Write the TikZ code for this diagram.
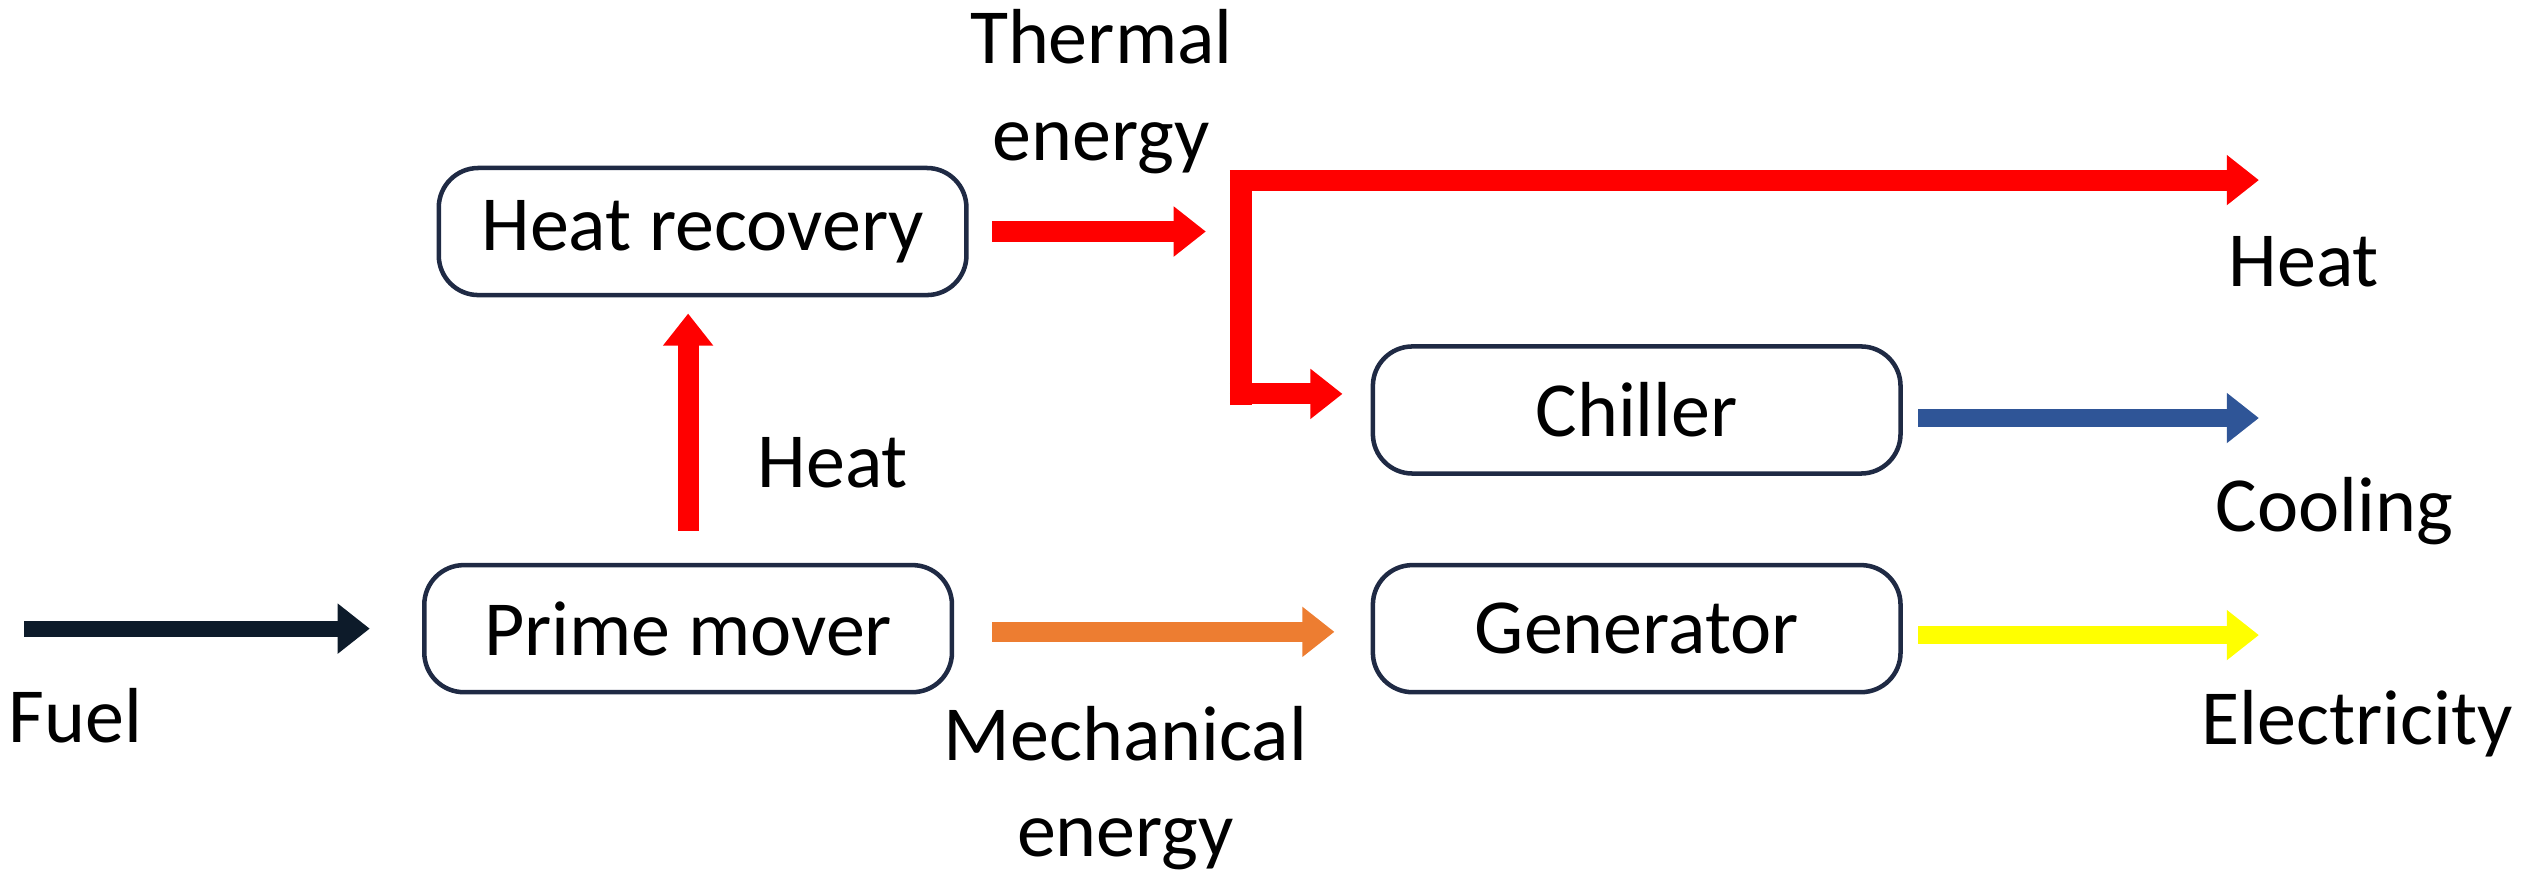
\documentclass[tikz,border=0pt]{standalone}
\usepackage{fontspec}
\setmainfont{Carlito}
\usetikzlibrary{arrows.meta}
\definecolor{fuelc}{HTML}{0D1B2A}
\definecolor{redc}{HTML}{FF0000}
\definecolor{bluec}{HTML}{2F5597}
\definecolor{orc}{HTML}{ED7D31}
\definecolor{yelc}{HTML}{FFFF00}
\definecolor{boxc}{HTML}{1F2A44}
\begin{document}
\begin{tikzpicture}[x=0.01cm,y=-0.01cm,
  box/.style={draw=boxc,line width=0.8pt,rounded corners=7pt,minimum width=3.28cm,minimum height=0.79cm,font=\fontsize{13.8}{16}\selectfont},
  lbl/.style={font=\fontsize{13.8}{17}\selectfont,align=center},
  flow/.style={line width=#1,-{Triangle[length=0.2cm,width=0.3cm]}}]
\useasboundingbox (0,0) rectangle (1568,545);
\node[box] (hr) at (437,144) {Heat recovery};
\node[box] (pm) at (428,391) {Prime mover};
\node[box] (ch) at (1018,255) {Chiller};
\node[box] (gen) at (1018,391) {Generator};
\coordinate (f0) at (15,391);
\coordinate (th) at (750,144);
\coordinate (hc) at (1405,112);
\coordinate (cc) at (1405,260);
\coordinate (ec) at (1405,395);
\coordinate (ch0) at (1193,260);
\coordinate (ge0) at (1193,395);
\draw[flow=0.1cm,draw=fuelc,fill=fuelc] (f0) -- (230,391);
\draw[flow=0.13cm,draw=redc,fill=redc] (pm.north |- 0,330) -- (pm.north |- 0,195);
\draw[flow=0.13cm,draw=redc,fill=redc] (617,144) -- (th);
\draw[line width=0.14cm,draw=redc] (772,252) -- (772,106);
\draw[flow=0.13cm,draw=redc,fill=redc] (765,112) -- (hc);
\draw[flow=0.13cm,draw=redc,fill=redc] (765,245) -- (835,245);
\draw[flow=0.11cm,draw=bluec,fill=bluec] (ch0) -- (cc);
\draw[flow=0.11cm,draw=yelc,fill=yelc] (ge0) -- (ec);
\draw[flow=0.12cm,draw=orc,fill=orc] (617,393) -- (830,393);
\node[lbl] (lf) at (47,445) {Fuel};
\node[lbl] (lh1) at (518,288) {Heat};
\node[lbl] (lt) at (685,57) {Thermal\\energy};
\node[lbl] (lh2) at (1433,163) {Heat};
\node[lbl] (lc) at (1452,318) {Cooling};
\node[lbl] (le) at (1466,450) {Electricity};
\node[lbl] (lm) at (700,490) {Mechanical\\energy};
\end{tikzpicture}
\end{document}
